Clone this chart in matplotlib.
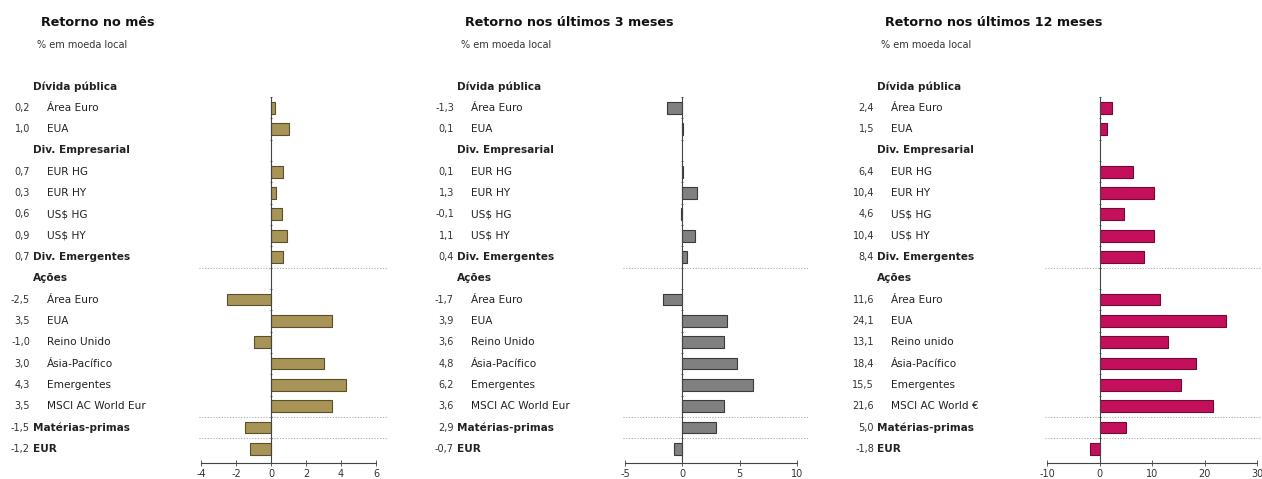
import matplotlib
matplotlib.use("Agg")
import matplotlib.pyplot as plt
from matplotlib.transforms import blended_transform_factory

plt.rcParams["axes.unicode_minus"] = False

# linhas da tabela: tipo 'h' cabeçalho, 's' sub-item, 'b' item em destaque
labels = ["Dívida pública", "Área Euro", "EUA", "Div. Empresarial", "EUR HG", "EUR HY",
          "US$ HG", "US$ HY", "Div. Emergentes", "Ações", "Área Euro", "EUA",
          "Reino Unido", "Ásia-Pacífico", "Emergentes", "MSCI AC World Eur",
          "Matérias-primas", "EUR"]
labels_12m = labels[:12] + ["Reino unido"] + labels[13:15] + ["MSCI AC World €"] + labels[16:]
kinds = ["h", "s", "s", "h", "s", "s", "s", "s", "b", "h", "s", "s", "s", "s", "s", "s", "b", "b"]

ret_mes = [None, 0.2, 1.0, None, 0.7, 0.3, 0.6, 0.9, 0.7, None,
           -2.5, 3.5, -1.0, 3.0, 4.3, 3.5, -1.5, -1.2]
ret_3m = [None, -1.3, 0.1, None, 0.1, 1.3, -0.1, 1.1, 0.4, None,
          -1.7, 3.9, 3.6, 4.8, 6.2, 3.6, 2.9, -0.7]
ret_12m = [None, 2.4, 1.5, None, 6.4, 10.4, 4.6, 10.4, 8.4, None,
           11.6, 24.1, 13.1, 18.4, 15.5, 21.6, 5.0, -1.8]

titles = ["Retorno no mês", "Retorno nos últimos 3 meses", "Retorno nos últimos 12 meses"]
subtitle = "% em moeda local"

W, H = 1262, 479
fig = plt.figure(figsize=(W / 100, H / 100), dpi=100)

panels = [
    dict(vals=ret_mes, labs=labels, color="#A89456", edge="#5a4f2c",
         xlim=(-4, 6), ticks=[-4, -2, 0, 2, 4, 6], x0=201, x1=376, off=0),
    dict(vals=ret_3m, labs=labels, color="#808080", edge="#3a3a3a",
         xlim=(-5, 10), ticks=[-5, 0, 5, 10], x0=625, x1=797, off=424),
    dict(vals=ret_12m, labs=labels_12m, color="#C4105C", edge="#6e0a34",
         xlim=(-10, 30), ticks=[-10, 0, 10, 20, 30], x0=1047, x1=1257, off=844),
]

ytop, ybot = 97, 463
txt = "#333333"

for p, title in zip(panels, titles):
    ax = fig.add_axes([p["x0"] / W, (H - ybot) / H, (p["x1"] - p["x0"]) / W, (ybot - ytop) / H])
    ax.set_xlim(*p["xlim"])
    ax.set_ylim(17.66, 0.5)

    for i, v in enumerate(p["vals"]):
        if v is None:
            continue
        ax.barh(i, v, height=0.55, color=p["color"], edgecolor=p["edge"], linewidth=0.8, zorder=3)

    # separadores pontilhados
    for yy in [8.5, 15.5, 16.5]:
        ax.plot([-0.01, 1.07], [yy, yy], transform=blended_transform_factory(ax.transAxes, ax.transData),
                color="#aaaaaa", linestyle=(0, (1, 1.5)), linewidth=0.8, clip_on=False, zorder=1)

    for s in ["top", "right"]:
        ax.spines[s].set_visible(False)
    ax.spines["left"].set_position(("data", 0))
    ax.spines["left"].set_color("#444444")
    ax.spines["bottom"].set_color("#444444")
    ax.spines["left"].set_zorder(4)
    ax.set_yticks([i + 0.5 for i in range(17)])
    ax.set_yticklabels([])
    ax.tick_params(axis="y", length=2, width=0.6, color="#444444", direction="inout")
    ax.set_xticks(p["ticks"])
    ax.tick_params(axis="x", length=4, width=0.6, color="#444444", direction="inout",
                   labelsize=7, labelcolor=txt, pad=2)
    ax.patch.set_visible(False)

    tr = blended_transform_factory(fig.transFigure, ax.transData)
    off = p["off"]
    fig.text((41 + off) / W, 1 - 23 / H, title, fontsize=9.2, fontweight="bold", color="#111111",
             va="center", ha="left")
    fig.text((37 + off) / W, 1 - 45 / H, subtitle, fontsize=7, color=txt, va="center", ha="left")

    for i, (lab, kind) in enumerate(zip(p["labs"], kinds)):
        v = p["vals"][i]
        lx = 47 if kind == "s" else 33
        ax.text((lx + off) / W, i, lab, transform=tr, fontsize=7.6, color="#222222",
                fontweight="bold" if kind != "s" else "normal", va="center", ha="left", clip_on=False)
        if v is not None:
            ax.text((30 + off) / W, i, f"{v:.1f}".replace(".", ","), transform=tr, fontsize=7,
                    color=txt, va="center", ha="right", clip_on=False)

fig.savefig("out.png", dpi=100, facecolor="white")
